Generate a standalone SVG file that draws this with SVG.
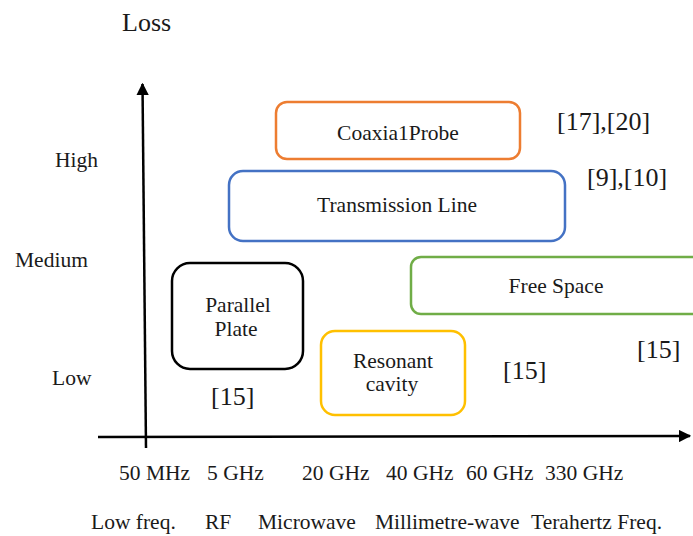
<svg xmlns="http://www.w3.org/2000/svg" width="693" height="536" viewBox="0 0 693 536">
<style>
text{font-family:"Liberation Serif","Times New Roman",serif;font-size:21.5px;fill:#1a1a1a}
.c{text-anchor:middle}
.r{font-size:26px}
.box{fill:#fff;stroke-width:2.5}
.ax{stroke:#000;stroke-width:2.5;fill:none}
</style>
<defs>
<marker id="ah" viewBox="0 0 10 10" refX="9" refY="5" markerWidth="5" markerHeight="5" orient="auto" markerUnits="strokeWidth">
<path d="M0,0L10,5L0,10z" fill="#000"/>
</marker>
</defs>
<rect width="693" height="536" fill="#fff"/>
<g id="connectors">
<line class="ax" x1="146" y1="448" x2="142.5" y2="84" marker-end="url(#ah)"/>
<line class="ax" x1="98" y1="437" x2="690" y2="436" marker-end="url(#ah)"/>
</g>
<g id="axis-labels">
<text x="122" y="31" style="font-size:26px">Loss</text>
<text x="55" y="167">High</text>
<text x="15" y="267">Medium</text>
<text x="52" y="385">Low</text>
<text x="119" y="480">50 MHz</text>
<text x="207" y="480">5 GHz</text>
<text x="302" y="480">20 GHz</text>
<text x="386" y="480">40 GHz</text>
<text x="466" y="480">60 GHz</text>
<text x="545" y="480">330 GHz</text>
<text x="91" y="529">Low freq.</text>
<text x="205" y="529">RF</text>
<text x="258" y="529">Microwave</text>
<text x="375" y="529">Millimetre-wave</text>
<text x="531" y="529">Terahertz Freq.</text>
</g>
<g id="coaxial-probe">
<rect class="box" x="276" y="102" width="244" height="57" rx="11" stroke="#ED7D31"/>
<text class="c" x="398" y="140">Coaxia1Probe</text>
</g>
<g id="transmission-line">
<rect class="box" x="229" y="171" width="336" height="70" rx="14" stroke="#4472C4"/>
<text class="c" x="397" y="212">Transmission Line</text>
</g>
<g id="free-space">
<rect class="box" x="411" y="257" width="300" height="57" rx="10" stroke="#70AD47"/>
<text class="c" x="556" y="293">Free Space</text>
</g>
<g id="parallel-plate">
<rect class="box" x="172" y="263" width="131" height="106" rx="18" stroke="#000"/>
<text class="c" x="238" y="312">Parallel</text>
<text class="c" x="236" y="336">Plate</text>
</g>
<g id="resonant-cavity">
<rect class="box" x="321" y="331" width="144" height="84" rx="14" stroke="#FFC000"/>
<text class="c" x="393" y="368">Resonant</text>
<text class="c" x="392" y="391">cavity</text>
</g>
<g id="refs">
<text class="r" x="557" y="130">[17],[20]</text>
<text class="r" x="587" y="186">[9],[10]</text>
<text class="r" x="211" y="405">[15]</text>
<text class="r" x="503" y="379">[15]</text>
<text class="r" x="637" y="358">[15]</text>
</g>
</svg>
